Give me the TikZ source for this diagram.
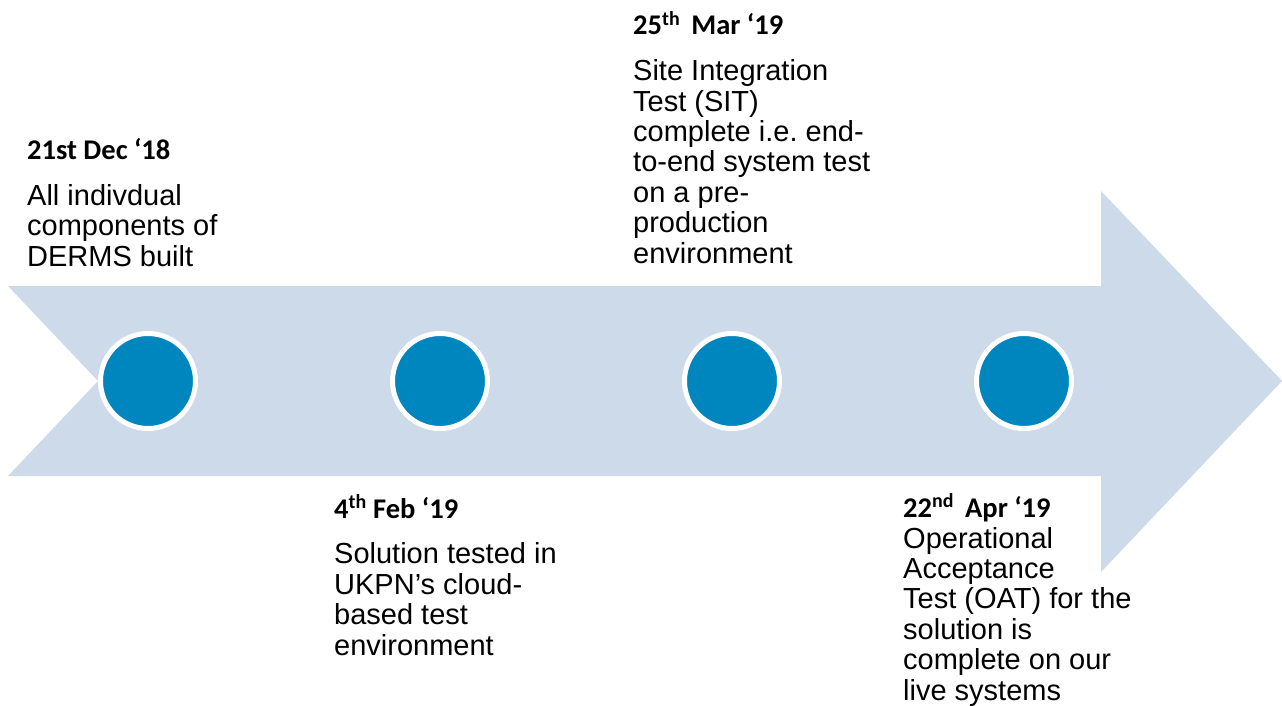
\documentclass[tikz,border=0pt]{standalone}
\usepackage{fontspec}
\setmainfont{Liberation Sans}
\newfontfamily\datefont{Carlito}
\frenchspacing
\definecolor{band}{HTML}{CDDAE9}
\definecolor{dot}{HTML}{0086BF}
\tikzset{
  dotnode/.style={circle, fill=dot, draw=white, line width=5pt, minimum size=95pt, inner sep=0pt},
  datelbl/.style={anchor=base west, inner sep=0pt, font=\datefont\bfseries\fontsize{28.5}{30}\selectfont},
  bodylbl/.style={anchor=base west, inner sep=0pt, align=left, font=\fontsize{29}{30.4}\selectfont},
}
\begin{document}
\begin{tikzpicture}[x=1pt,y=-1pt]
\useasboundingbox (0,0) rectangle (1282,706);
% arrow band
\fill[band] (8,286) -- (1101,286) -- (1101,191) -- (1282,381) -- (1101,572) -- (1101,476) -- (8,476) -- (98,381) -- cycle;
% dots
\node[dotnode] (d1) at (148,381) {};
\node[dotnode] (d2) at (440,381) {};
\node[dotnode] (d3) at (732,381) {};
\node[dotnode] (d4) at (1024,381) {};
% labels (body nodes are placed at the baseline of their last line)
\node[datelbl] (t1) at (27,159) {21st Dec ‘18};
\node[bodylbl] (b1) at (27,266) {All indivdual\\components of\\DERMS built};
\node[datelbl] (t3) at (633,35) {25\textsuperscript{th}\, Mar ‘19};
\node[bodylbl] (b3) at (633,263) {Site Integration\\Test (SIT)\\complete i.e. end-\\to-end system test\\on a pre-\\production\\environment};
\node[datelbl] (t2) at (334,518) {4\textsuperscript{th} Feb ‘19};
\node[bodylbl] (b2) at (334,655) {Solution tested in\\UKPN’s cloud-\\based test\\environment};
\node[datelbl] (t4) at (903,517) {22\textsuperscript{nd}\, Apr ‘19};
\node[bodylbl] (b4) at (903,700) {Operational\\Acceptance\\Test (OAT) for the\\solution is\\complete on our\\live systems};
\end{tikzpicture}
\end{document}
